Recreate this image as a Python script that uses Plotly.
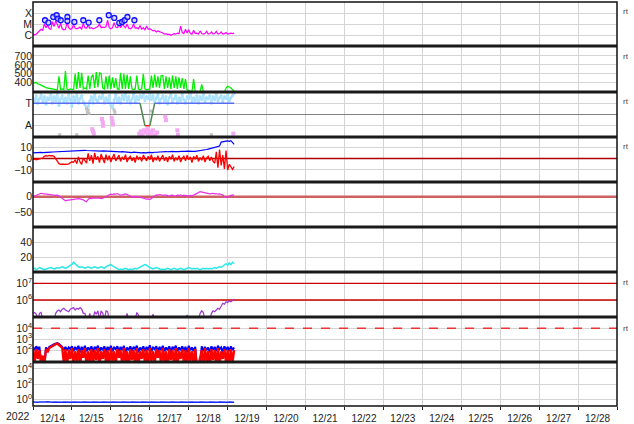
import plotly.graph_objects as go
from plotly.subplots import make_subplots
import pandas as pd
import numpy as np

START = "2022-12-14 00:00"
END = "2022-12-29 00:00"
N_HOURS = 125
times = pd.date_range(START, periods=N_HOURS, freq="h")

# ---- Panel 1: X-ray flux class (log10 W/m^2), hourly ----
xray_log = [-6.00, -5.95, -5.90, -5.75, -5.60, -5.45, -5.55, -4.95, -5.30, -5.05,
            -5.40, -5.45, -4.75, -5.20, -4.65, -4.95, -5.35, -4.90, -5.40, -5.50,
            -5.45, -4.80, -5.30, -5.45, -5.40, -5.00, -5.35, -5.40, -5.30, -5.25,
            -5.45, -4.90, -5.30, -5.35, -5.05, -5.35, -5.30, -5.40, -5.35, -5.30,
            -5.20, -4.95, -5.30, -5.25, -5.30, -5.20, -4.60, -5.30, -5.40, -5.30,
            -4.85, -5.25, -5.30, -5.05, -5.30, -5.00, -5.15, -5.30, -4.95, -5.35,
            -5.40, -5.30, -4.95, -5.35, -5.30, -5.40, -5.10, -5.45, -5.30, -5.50,
            -5.15, -5.45, -5.40, -5.50, -5.60, -5.55, -5.70, -5.60, -5.65, -5.75,
            -5.80, -5.90, -5.85, -5.95, -5.90, -6.00, -5.95, -5.85, -5.90, -5.80,
            -5.85, -5.15, -5.75, -5.85, -5.45, -5.80, -5.50, -5.85, -5.90, -5.55,
            -5.85, -5.80, -5.90, -5.60, -5.85, -5.90, -5.85, -5.65, -5.90, -5.85,
            -5.70, -5.90, -5.85, -5.65, -5.90, -5.85, -5.70, -5.90, -5.85, -5.75,
            -5.90, -5.85, -5.80, -5.85, -5.80]
flare_hours = [7.4, 9.5, 12.5, 14.6, 15.4, 17.1, 21.2, 21.2, 25.5, 31.0,
               34.3, 40.9, 46.7, 50.1, 53.2, 54.9, 56.5, 58.2, 62.5]
flare_log = [-4.61, -4.83, -4.31, -4.15, -4.46, -4.61, -4.31, -4.68, -4.77, -4.61,
             -4.83, -4.61, -4.15, -4.40, -4.86, -4.77, -4.61, -4.31, -4.61]
xray_ticks = [-6, -5, -4]
xray_labels = ["C", "M", "X"]

# ---- Panel 2: solar wind speed ----
speed = [400, 395, 405, 385, 380, 370, 360, 355, 345, 340,
         335, 330, 330, 325, 322, 320, 470, 325, 330, 320,
         530, 325, 320, 330, 325, 320, 500, 330, 520, 340,
         510, 330, 340, 330, 480, 330, 460, 490, 340, 520,
         350, 510, 500, 340, 330, 470, 330, 480, 330, 460,
         340, 450, 330, 325, 510, 330, 500, 330, 490, 330,
         470, 330, 320, 330, 480, 330, 320, 330, 500, 330,
         320, 325, 330, 480, 340, 490, 350, 470, 340, 480,
         480, 330, 470, 340, 460, 330, 480, 340, 470, 330,
         460, 340, 450, 330, 440, 320, 310, 305, 300, 440,
         300, 295, 300, 295, 380, 300, 298, 296, 300, 297,
         295, 298, 300, 296, 299, 297, 300, 298, 296, 340,
         360, 350, 340, 320, 310]
speed_ticks = [400, 500, 600, 700]

# ---- Panel 3: IMF sector (T = toward, A = away) ----
phi_toward = [1.5, 1.2, 1.7, 1.0, 1.4, 1.8, 1.1, 1.6, 0.9, 1.5,
              1.3, 1.8, 1.0, 1.6, 1.2, 1.9, 0.8, 1.4, 1.7, 1.1,
              1.5, 1.0, 1.8, 1.3, 0.7, 1.6, 1.2, 1.9, 1.0, 1.4,
              1.7, 1.1, 0.9, 0.6, 0.7, 1.2, 1.6, 1.0, 1.8, 1.3,
              1.1, 1.6, 1.4, 1.9, 1.0, 1.5, 1.2, 1.7, 0.8, 0.6,
              1.3, 1.8, 1.1, 1.5, 1.0, 1.7, 1.3, 1.9, 1.2, 1.6,
              1.0, 1.4, 1.8, 1.1, 1.6, 1.3, 1.7, 1.5, 1.8, 1.2,
              1.6, 1.4, 1.9, 1.3, 1.7, 1.1, 1.5, 1.8, 1.0, 1.4,
              1.7, 1.2, 1.6, 0.9, 1.5, 1.8, 1.1, 1.4, 1.7, 1.0,
              1.5, 1.2, 1.8, 1.3, 1.0, 1.6, 1.4, 1.9, 1.1, 1.5,
              1.2, 1.7, 1.0, 1.6, 1.3, 1.8, 1.1, 1.5, 1.4, 1.7,
              1.0, 1.6, 1.3, 1.8, 1.2, 1.5, 1.7, 1.1, 1.6, 1.4,
              1.8, 1.2, 1.5, 1.7, 1.9]
away_hours = [36.5, 37.0, 37.5, 42.5, 43.0, 43.2, 48.5, 49.0, 49.3, 65.5, 66.5, 67.5, 68.5,
              69.5, 70.5, 71.0, 72.0, 73.0, 74.0, 75.5, 76.5, 81.5, 82.0, 89.0, 89.4, 123.5]
away_vals = [-1.3, -1.5, -1.7, -0.4, -0.7, -1.0, -0.3, -0.6, -0.9, -1.7, -1.5, -1.8, -1.4,
             -1.6, -1.3, -1.8, -1.5, -1.7, -1.4, -1.8, -1.6, -0.2, -0.5, -1.4, -1.8, -1.7]
other_hours = [16.5, 27.0, 33.0, 33.5, 34.0, 34.5, 50.0, 50.5, 66.0, 72.5, 75.0, 110.0]
other_vals = [-1.8, -1.8, 0.5, 0.2, 0.4, 0.1, 0.4, 0.2, -1.85, 0.3, -1.85, -1.8]
sector_hours = [0, 66, 69, 72, 75, 124]
sector_vals = [1, 1, -1, -1, 1, 1]
sector_ticks = [-1, 1]
sector_labels = ["A", "T"]

# ---- Panel 4: IMF Bt / Bz (nT) ----
bt = [5.0, 5.2, 5.1, 5.3, 5.2, 5.4, 5.3, 5.5, 5.4, 5.6,
      5.5, 5.7, 5.8, 5.9, 6.0, 6.1, 6.0, 6.2, 6.3, 6.2,
      6.4, 6.5, 6.4, 6.6, 6.7, 6.8, 6.9, 7.0, 7.1, 7.3,
      7.2, 7.4, 7.3, 7.1, 7.0, 6.8, 6.9, 6.7, 6.6, 6.8,
      6.7, 6.5, 6.6, 6.8, 6.7, 6.5, 6.6, 6.4, 6.3, 6.5,
      6.2, 6.0, 6.3, 6.1, 5.9, 6.2, 6.0, 5.6, 5.4, 5.7,
      5.5, 5.3, 5.6, 5.4, 5.2, 5.5, 5.3, 5.0, 5.2, 4.9,
      5.1, 5.4, 5.2, 5.5, 5.3, 5.6, 5.4, 5.7, 5.8, 6.0,
      6.1, 5.9, 6.2, 6.0, 6.3, 6.1, 6.4, 6.2, 6.0, 6.3,
      6.1, 6.4, 6.2, 6.5, 6.3, 6.6, 6.4, 6.2, 6.5, 6.3,
      6.4, 6.6, 6.5, 6.8, 7.0, 7.3, 7.6, 8.0, 8.4, 8.8,
      9.2, 9.6, 10.0, 10.5, 10.8, 11.0, 14.5, 15.0, 14.8, 15.3,
      15.6, 15.2, 15.8, 14.0, 12.5]
bz = [-0.8, -0.5, -1.0, -0.6, -0.4, -0.2, 0.5, 2.0, 2.5, 2.2,
      2.8, 2.3, 2.6, 2.0, -0.5, -3.0, -4.5, -5.0, -5.2, -5.0,
      -4.8, -5.1, -4.6, -3.5, -2.8, -3.2, -1.0, -4.5, 1.5, -3.0,
      -5.0, 0.5, -2.5, -4.0, 4.5, -2.0, 3.0, -4.5, 5.0, -1.0,
      2.0, -3.5, 4.0, 0.5, -4.0, 3.5, -1.5, 2.5, -3.0, 1.0,
      4.0, -2.0, 0.0, 3.0, -2.5, 1.5, -1.0, 3.5, -3.0, 0.5,
      2.0, -2.0, 1.0, -3.5, 2.5, -0.5, 1.5, -2.5, 3.0, 0.0,
      -2.0, 2.0, -1.0, 3.5, -3.0, 1.0, -1.5, 2.5, -2.5, 0.5,
      3.0, -2.0, 1.5, -3.0, 2.0, -0.5, 3.5, -2.5, 1.0, -1.5,
      2.5, -3.0, 0.5, 2.0, -2.0, 3.0, -1.0, 1.5, -3.5, 2.0,
      -0.5, 3.0, -2.5, 1.0, -1.5, 2.5, -3.0, 0.5, 2.0, -2.0,
      1.5, -2.5, -4.0, 6.0, -8.0, 8.0, -6.0, 3.0, -9.0, 7.0,
      -10.0, -5.0, -8.0, -9.5, -7.0]
b_ticks = [-10, 0, 10]

# ---- Panel 5: magnetometer deviation ----
dev = [0, 2, 5, 8, 10, 11, 10, 9, 10, 9,
       7, 6, 5, 5, 4, 5, 3, 0, -5, -10,
       -13, -12, -11, -12, -10, -8, -7, -8, -6, -7,
       -8, -10, -14, -16, -9, -5, -6, -4, -5, -6,
       -5, -4, -6, -5, -3, 0, 3, 6, 8, 7,
       9, 8, 10, 7, 5, 6, 8, 9, 7, 5,
       2, -2, 0, 1, 0, -1, 0, -3, -5, -7,
       -8, -7, -9, -6, -2, 3, 6, 5, 7, 6,
       4, 6, 5, 3, 2, 4, 5, 3, 2, 5,
       4, 6, 3, 5, 4, 3, 2, 4, 3, 5,
       7, 10, 13, 16, 15, 14, 12, 10, 11, 9,
       10, 11, 9, 10, 8, 9, 7, 5, 0, -2,
       -1, 2, 4, 5, 6]
dev_ticks = [-50, 0]

# ---- Panel 6: density / cyan ----
dens = [4, 5, 3, 4, 6, 5, 4, 3, 4, 5,
        5, 6, 5, 4, 5, 6, 5, 6, 7, 6,
        5, 6, 7, 8, 10, 13, 11, 8, 7, 6,
        7, 6, 5, 6, 7, 6, 5, 6, 7, 6,
        5, 6, 7, 6, 5, 7, 8, 9, 10, 8,
        7, 5, 4, 3, 4, 3, 4, 5, 4, 3,
        4, 3, 4, 5, 4, 5, 6, 7, 8, 10,
        9, 7, 6, 5, 4, 5, 6, 5, 4, 3,
        4, 3, 4, 5, 4, 3, 4, 5, 4, 3,
        4, 5, 4, 3, 4, 5, 6, 5, 4, 5,
        4, 5, 4, 3, 4, 5, 4, 5, 4, 5,
        4, 5, 6, 5, 6, 7, 6, 8, 10, 11,
        9, 12, 10, 13, 11]
dens_ticks = [20, 40]

# ---- Panel 7: electron flux (log10) ----
elec_log = [5.2, 5.25, 5.15, 4.8, 5.2, 5.25, 4.8, 4.8, 4.8, 4.8,
            4.8, 4.8, 4.8, 4.8, 5.2, 5.35, 5.4, 5.3, 5.45, 5.5,
            5.4, 5.35, 5.3, 5.45, 5.5, 5.55, 5.4, 5.5, 5.45, 5.55,
            5.45, 5.2, 5.2, 4.8, 4.8, 5.2, 4.8, 4.8, 5.3, 5.15,
            5.35, 4.8, 5.35, 5.2, 4.8, 5.35, 5.3, 4.8, 4.8, 4.8,
            4.8, 4.8, 4.8, 4.8, 4.8, 4.8, 4.8, 4.8, 5.2, 4.8,
            4.8, 4.8, 4.8, 4.8, 5.25, 5.1, 4.8, 4.8, 4.8, 4.8,
            4.8, 4.8, 4.8, 4.8, 5.15, 4.8, 4.8, 4.8, 4.8, 4.8,
            4.8, 4.8, 4.8, 4.8, 4.8, 4.8, 4.8, 4.8, 4.8, 4.8,
            4.8, 4.8, 4.8, 4.8, 4.8, 5.1, 4.8, 4.8, 4.8, 4.8,
            4.8, 4.8, 4.8, 5.2, 5.35, 5.25, 4.8, 4.8, 4.8, 4.8,
            5.2, 5.35, 5.3, 5.4, 5.5, 5.45, 5.6, 5.8, 5.75, 5.9,
            5.85, 5.95, 5.9, 6.0, 6.05]
elec_levels = [1e6, 1e7]
elec_ticks = [1e6, 1e7]
elec_labels = ["10<sup>6</sup>", "10<sup>7</sup>"]

# ---- Panel 8: proton flux (log10), two channels ----
p_blue_log = [2.3, 2.0, 2.35, 2.1, 2.3, 0.5, 0.6, 0.5, 2.25, 2.0,
              2.3, 2.35, 2.45, 2.55, 2.6, 2.65, 2.55, 2.4, 2.3, 2.0,
              2.3, 2.0, 2.25, 2.1, 2.35, 1.9, 2.3, 2.0, 2.4, 1.8,
              2.3, 2.0, 2.4, 1.9, 2.25, 2.0, 2.35, 1.8, 2.3, 2.1,
              2.4, 1.9, 2.25, 2.0, 2.35, 1.8, 2.3, 2.0, 2.4, 1.9,
              2.25, 2.1, 2.35, 1.9, 2.3, 2.0, 2.4, 1.8, 2.25, 2.0,
              2.35, 1.9, 2.3, 2.1, 2.4, 1.8, 2.25, 2.0, 2.35, 1.9,
              2.3, 2.0, 2.45, 1.9, 2.25, 2.1, 2.35, 1.8, 2.3, 2.0,
              2.4, 1.9, 2.25, 2.0, 2.35, 1.8, 2.3, 2.1, 2.4, 1.9,
              2.25, 2.0, 2.35, 1.9, 2.3, 1.8, 2.4, 2.0, 2.25, 1.9,
              2.3, 0.5, 0.6, 0.5, 2.35, 1.9, 2.3, 2.0, 2.25, 1.8,
              2.35, 2.0, 2.3, 1.9, 2.4, 2.1, 2.25, 1.8, 2.35, 2.0,
              2.3, 1.9, 2.35, 2.0, 2.25]
p_red_log = [2.2, 0.8, 2.1, 1.2, 2.0, 1.0, 1.5, 0.7, 2.1, 1.8,
             2.2, 2.3, 2.4, 2.5, 2.55, 2.6, 2.5, 2.35, 2.2, 0.8,
             2.1, 0.6, 2.0, 1.2, 2.2, 0.7, 1.9, 1.0, 2.1, 0.5,
             2.0, 1.3, 2.2, 0.6, 1.9, 0.9, 2.1, 0.7, 2.0, 1.1,
             2.2, 0.6, 1.9, 1.2, 2.1, 0.8, 2.0, 0.5, 2.2, 1.0,
             1.9, 0.7, 2.1, 1.3, 2.0, 0.6, 2.2, 0.9, 1.9, 0.5,
             2.1, 1.1, 2.0, 0.7, 2.2, 0.6, 1.9, 1.2, 2.1, 0.8,
             2.0, 0.5, 2.2, 1.0, 1.9, 0.7, 2.1, 1.3, 2.0, 0.6,
             2.2, 0.9, 1.9, 0.5, 2.1, 1.1, 2.0, 0.7, 2.2, 0.6,
             1.9, 1.2, 2.1, 0.8, 2.0, 0.5, 2.2, 1.0, 1.9, 0.7,
             2.1, 0.5, 0.6, 1.2, 2.0, 0.6, 2.2, 0.9, 1.9, 0.5,
             2.1, 1.1, 2.0, 0.7, 2.2, 0.6, 1.9, 1.2, 2.1, 0.8,
             2.0, 0.5, 2.1, 0.9, 2.0]
proton_alert = 1e4
proton_ticks = [1e2, 1e3, 1e4]
proton_labels = ["10<sup>2</sup>", "10<sup>3</sup>", "10<sup>4</sup>"]

# ---- Panel 9: high-energy flux (log10) ----
he_log = [-0.35, -0.38, -0.33, -0.37, -0.34, -0.36, -0.39, -0.34, -0.36, -0.33,
          -0.37, -0.35, -0.38, -0.34, -0.36, -0.33, -0.37, -0.35, -0.39, -0.34,
          -0.36, -0.33, -0.37, -0.35, -0.38, -0.34, -0.36, -0.33, -0.37, -0.35,
          -0.38, -0.34, -0.36, -0.33, -0.37, -0.35, -0.39, -0.34, -0.36, -0.33,
          -0.37, -0.35, -0.38, -0.34, -0.36, -0.33, -0.37, -0.35, -0.38, -0.34,
          -0.36, -0.33, -0.37, -0.35, -0.39, -0.34, -0.36, -0.33, -0.37, -0.35,
          -0.38, -0.34, -0.36, -0.33, -0.37, -0.35, -0.38, -0.34, -0.36, -0.33,
          -0.37, -0.35, -0.39, -0.34, -0.36, -0.33, -0.37, -0.35, -0.38, -0.34,
          -0.36, -0.33, -0.37, -0.35, -0.38, -0.34, -0.36, -0.33, -0.37, -0.35,
          -0.39, -0.34, -0.36, -0.33, -0.37, -0.35, -0.38, -0.34, -0.36, -0.33,
          -0.37, -0.35, -0.38, -0.34, -0.36, -0.33, -0.37, -0.35, -0.39, -0.34,
          -0.36, -0.33, -0.37, -0.35, -0.38, -0.34, -0.36, -0.33, -0.37, -0.35,
          -0.38, -0.34, -0.36, -0.33, -0.37]
he_ticks = [1, 1e2, 1e4]
he_labels = ["10<sup>0</sup>", "10<sup>2</sup>", "10<sup>4</sup>"]

side_label = "rt"
year_label = "2022"

# ================= figure =================
W, H = 634, 424
L, R, T, B = 33, 17, 2, 18
PH = H - T - B
panel_px = [(2, 46), (46, 92), (92, 137), (137, 182), (182, 227),
            (227, 272), (272, 317), (317, 362), (362, 406)]


def py(p):
    return (H - B - p) / PH


def at(h):
    return pd.Timestamp(START) + pd.to_timedelta(h, unit="h")


fig = make_subplots(rows=9, cols=1, shared_xaxes=True, vertical_spacing=0)
x_span = [pd.Timestamp(START), pd.Timestamp(END)]


def hline(row, val, color, width, dash="solid"):
    fig.add_trace(go.Scatter(x=x_span, y=[val, val], mode="lines",
                             line=dict(color=color, width=width, dash=dash),
                             showlegend=False, hoverinfo="skip"), row=row, col=1)


# panel 1
fig.add_trace(go.Scatter(x=times, y=xray_log, mode="lines",
                         line=dict(color="#ff00ff", width=1.2)), row=1, col=1)
fig.add_trace(go.Scatter(x=[at(h) for h in flare_hours], y=flare_log, mode="markers",
                         marker=dict(symbol="circle", size=5, color="rgba(190,190,255,0.6)",
                                     line=dict(color="#1010ff", width=1.3))), row=1, col=1)
# panel 2
fig.add_trace(go.Scatter(x=times, y=speed, mode="lines",
                         line=dict(color="#00ee00", width=1.3)), row=2, col=1)
# panel 3
fig.add_trace(go.Scatter(x=times, y=phi_toward, mode="lines+markers",
                         line=dict(color="#b0e4ff", width=2),
                         marker=dict(size=3, color="#a8e0ff")), row=3, col=1)
fig.add_trace(go.Scatter(x=[at(h) for h in other_hours], y=other_vals, mode="markers",
                         marker=dict(size=3, color="#c0c0c0", symbol="square")), row=3, col=1)
fig.add_trace(go.Scatter(x=[at(h) for h in away_hours], y=away_vals, mode="markers",
                         marker=dict(size=4, color="#f4a8f4", symbol="square")), row=3, col=1)
for i in range(len(sector_hours) - 1):
    v0, v1 = sector_vals[i], sector_vals[i + 1]
    if v0 == v1 == 1:
        c = "#5a6cf0"
    elif v0 == v1 == -1:
        c = "#ff2020"
    else:
        c = "#4f8a4f"
    fig.add_trace(go.Scatter(x=[at(sector_hours[i]), at(sector_hours[i + 1])], y=[v0, v1],
                             mode="lines", line=dict(color=c, width=1.5)), row=3, col=1)
# panel 4
hline(4, 0, "#b00000", 1.5)
fig.add_trace(go.Scatter(x=times, y=bt, mode="lines", line=dict(color="#0000ff", width=1.2)), row=4, col=1)
fig.add_trace(go.Scatter(x=times, y=bz, mode="lines", line=dict(color="#ff0000", width=1.3)), row=4, col=1)
# panel 5
hline(5, 0, "#cd6060", 2.5)
fig.add_trace(go.Scatter(x=times, y=dev, mode="lines", line=dict(color="#e830e8", width=1.2)), row=5, col=1)
# panel 6
fig.add_trace(go.Scatter(x=times, y=dens, mode="lines", line=dict(color="#30e8e8", width=1.5)), row=6, col=1)
# panel 7
for lv in elec_levels:
    hline(7, lv, "#cc0000", 1.3)
fig.add_trace(go.Scatter(x=times, y=np.power(10.0, elec_log), mode="lines",
                         line=dict(color="#a035d0", width=1.2)), row=7, col=1)
# panel 8
hline(8, proton_alert, "#ee3333", 1.5, "dash")
fig.add_trace(go.Scatter(x=times, y=np.power(10.0, p_blue_log), mode="lines",
                         line=dict(color="#0000ff", width=2)), row=8, col=1)
fig.add_trace(go.Scatter(x=times, y=np.power(10.0, p_red_log), mode="lines",
                         line=dict(color="#ff0000", width=2.3)), row=8, col=1)
# panel 9
fig.add_trace(go.Scatter(x=times, y=np.power(10.0, he_log), mode="lines",
                         line=dict(color="#1a2cff", width=1.5)), row=9, col=1)

FONT = "Liberation Sans"
GRID = "#d4d4d4"

yspecs = [
    dict(type="linear", range=[-7.0, -2.92], tickvals=xray_ticks, ticktext=xray_labels),
    dict(type="linear", range=[295, 812], tickvals=speed_ticks),
    dict(type="linear", range=[-2.0, 2.0], tickvals=sector_ticks, ticktext=sector_labels,
         zeroline=True, zerolinecolor="#808080", zerolinewidth=1),
    dict(type="linear", range=[-20.6, 19.0], tickvals=b_ticks),
    dict(type="linear", range=[-97, 47], tickvals=dev_ticks),
    dict(type="linear", range=[0, 60], tickvals=dens_ticks),
    dict(type="log", range=[4.98, 7.68], tickvals=elec_ticks, ticktext=elec_labels),
    dict(type="log", range=[0.92, 5.03], tickvals=proton_ticks, ticktext=proton_labels),
    dict(type="log", range=[-0.88, 4.92], tickvals=he_ticks, ticktext=he_labels),
]
for i, spec in enumerate(yspecs):
    name = "yaxis" if i == 0 else f"yaxis{i + 1}"
    t, b = panel_px[i]
    base = dict(domain=[py(b), py(t)], showgrid=True, gridcolor=GRID, gridwidth=1,
                zeroline=False, showline=False, ticks="", automargin=False,
                tickfont=dict(family=FONT, size=10.5, color="#222"), fixedrange=True)
    base.update(spec)
    fig.layout[name] = base

for i in range(9):
    name = "xaxis" if i == 0 else f"xaxis{i + 1}"
    fig.layout[name].update(dict(type="date", range=x_span, tick0=START, dtick=86400000,
                                 showgrid=True, gridcolor=GRID, gridwidth=1, zeroline=False,
                                 showline=False, automargin=False, fixedrange=True))
fig.layout["xaxis9"].update(dict(showticklabels=True, ticklabelmode="period", tickformat="%m/%d",
                                 ticks="outside", ticklen=3, tickcolor="#222",
                                 tickfont=dict(family=FONT, size=10, color="#222")))

shapes = []
for (t, b) in panel_px[1:]:
    shapes.append(dict(type="line", xref="paper", yref="paper", x0=0, x1=1,
                       y0=py(t), y1=py(t), line=dict(color="#1a1a1a", width=3)))
shapes.append(dict(type="rect", xref="paper", yref="paper", x0=0, x1=1, y0=0, y1=1,
                   line=dict(color="#111", width=1.5)))

annotations = []
for p in [11, 56.5, 101, 146, 282, 328]:
    annotations.append(dict(text=side_label, xref="paper", yref="paper", x=1, y=py(p),
                            xanchor="left", yanchor="middle", xshift=4, showarrow=False,
                            font=dict(family=FONT, size=8, color="#444")))
annotations.append(dict(text=year_label, xref="paper", yref="paper", x=(18 - L) / (W - L - R),
                        y=py(416), xanchor="center", yanchor="middle", showarrow=False,
                        font=dict(family=FONT, size=10.5, color="#222")))

fig.update_traces(showlegend=False, hoverinfo="skip")
fig.update_layout(width=W, height=H, margin=dict(l=L, r=R, t=T, b=B),
                  paper_bgcolor="white", plot_bgcolor="white", showlegend=False,
                  shapes=shapes, annotations=annotations, template=None)

fig.write_html("out.html", config={"displayModeBar": False},
               post_script="document.body.style.margin='0';document.body.style.padding='0';")
